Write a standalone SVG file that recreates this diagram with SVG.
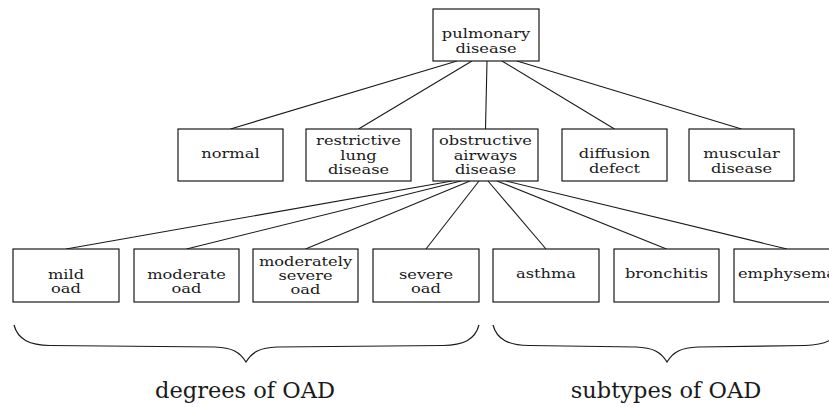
<svg xmlns="http://www.w3.org/2000/svg" width="829" height="407" viewBox="0 0 829 407">
  <style>
    .box { fill: #ffffff; stroke: #1a1a1a; stroke-width: 1.2; }
    .edge { stroke: #1a1a1a; stroke-width: 1.1; fill: none; }
    .brace { stroke: #1a1a1a; stroke-width: 1.2; fill: none; }
    .lbl { font-family: "DejaVu Serif", "Liberation Serif", serif; font-size: 12.5px; fill: #1a1a1a; text-anchor: middle; }
    .cap { font-family: "DejaVu Serif", "Liberation Serif", serif; font-size: 22.5px; fill: #1a1a1a; text-anchor: middle; }
  </style>

  <rect width="829" height="407" fill="#ffffff"/>

  <!-- connectors -->
  <g id="edges">
    <line class="edge" x1="457" y1="61" x2="230.5" y2="129"/>
    <line class="edge" x1="472" y1="61" x2="358.5" y2="129"/>
    <line class="edge" x1="487" y1="61" x2="485.5" y2="129"/>
    <line class="edge" x1="502" y1="61" x2="614.5" y2="129"/>
    <line class="edge" x1="517" y1="61" x2="741.5" y2="129"/>

    <line class="edge" x1="452" y1="181" x2="66" y2="249"/>
    <line class="edge" x1="461" y1="181" x2="186.5" y2="249"/>
    <line class="edge" x1="470" y1="181" x2="305.5" y2="249"/>
    <line class="edge" x1="479" y1="181" x2="426" y2="249"/>
    <line class="edge" x1="488" y1="181" x2="546" y2="249"/>
    <line class="edge" x1="497" y1="181" x2="666.5" y2="249"/>
    <line class="edge" x1="506" y1="181" x2="787" y2="249"/>
  </g>

  <!-- level 0 -->
  <g id="pulmonary-disease">
    <rect class="box" x="433" y="9" width="106" height="52"/>
    <g transform="translate(486 0) scale(1.3 1)">
      <text class="lbl"><tspan x="0" y="38.5">pulmonary</tspan><tspan x="0" y="53">disease</tspan></text>
    </g>
  </g>

  <!-- level 1 -->
  <g id="normal">
    <rect class="box" x="178" y="129" width="105" height="52"/>
    <g transform="translate(230.5 0) scale(1.3 1)">
      <text class="lbl" x="0" y="158.5">normal</text>
    </g>
  </g>
  <g id="restrictive-lung-disease">
    <rect class="box" x="306" y="129" width="105" height="52"/>
    <g transform="translate(358.5 0) scale(1.3 1)">
      <text class="lbl"><tspan x="0" y="145.5">restrictive</tspan><tspan x="0" y="160">lung</tspan><tspan x="0" y="174.3">disease</tspan></text>
    </g>
  </g>
  <g id="obstructive-airways-disease">
    <rect class="box" x="433" y="129" width="105" height="52"/>
    <g transform="translate(485.5 0) scale(1.3 1)">
      <text class="lbl"><tspan x="0" y="145.5">obstructive</tspan><tspan x="0" y="160">airways</tspan><tspan x="0" y="174.3">disease</tspan></text>
    </g>
  </g>
  <g id="diffusion-defect">
    <rect class="box" x="562" y="129" width="105" height="52"/>
    <g transform="translate(614.5 0) scale(1.3 1)">
      <text class="lbl"><tspan x="0" y="158.5">diffusion</tspan><tspan x="0" y="173">defect</tspan></text>
    </g>
  </g>
  <g id="muscular-disease">
    <rect class="box" x="689" y="129" width="105" height="52"/>
    <g transform="translate(741.5 0) scale(1.3 1)">
      <text class="lbl"><tspan x="0" y="158.5">muscular</tspan><tspan x="0" y="173">disease</tspan></text>
    </g>
  </g>

  <!-- level 2 -->
  <g id="mild-oad">
    <rect class="box" x="13" y="249" width="106" height="53"/>
    <g transform="translate(66 0) scale(1.3 1)">
      <text class="lbl"><tspan x="0" y="279">mild</tspan><tspan x="0" y="293.5">oad</tspan></text>
    </g>
  </g>
  <g id="moderate-oad">
    <rect class="box" x="134" y="249" width="105" height="53"/>
    <g transform="translate(186.5 0) scale(1.3 1)">
      <text class="lbl"><tspan x="0" y="279">moderate</tspan><tspan x="0" y="293.5">oad</tspan></text>
    </g>
  </g>
  <g id="moderately-severe-oad">
    <rect class="box" x="253" y="249" width="105" height="53"/>
    <g transform="translate(305.5 0) scale(1.3 1)">
      <text class="lbl"><tspan x="0" y="266">moderately</tspan><tspan x="0" y="280.3">severe</tspan><tspan x="0" y="294.5">oad</tspan></text>
    </g>
  </g>
  <g id="severe-oad">
    <rect class="box" x="373" y="249" width="106" height="53"/>
    <g transform="translate(426 0) scale(1.3 1)">
      <text class="lbl"><tspan x="0" y="279">severe</tspan><tspan x="0" y="293.5">oad</tspan></text>
    </g>
  </g>
  <g id="asthma">
    <rect class="box" x="493" y="249" width="106" height="53"/>
    <g transform="translate(546 0) scale(1.3 1)">
      <text class="lbl" x="0" y="278.5">asthma</text>
    </g>
  </g>
  <g id="bronchitis">
    <rect class="box" x="614" y="249" width="105" height="53"/>
    <g transform="translate(666.5 0) scale(1.3 1)">
      <text class="lbl" x="0" y="278.5">bronchitis</text>
    </g>
  </g>
  <g id="emphysema">
    <rect class="box" x="734" y="249" width="106" height="53"/>
    <g transform="translate(787 0) scale(1.3 1)">
      <text class="lbl" x="0" y="278.5">emphysema</text>
    </g>
  </g>

  <!-- grouping braces with captions -->
  <g id="degrees-of-oad">
    <path class="brace" d="M14,325 C18,340 30,345 50,345.5 L215,347 C232,347.5 240,352 246,362 C252,352 260,347.5 277,347 L443,345.5 C463,345 475,340 479,325"/>
    <text class="cap" x="245" y="398">degrees of OAD</text>
  </g>
  <g id="subtypes-of-oad">
    <path class="brace" d="M493,325 C497,340 509,345 529,345.5 L636,347 C653,347.5 661,352 667,362 C673,352 681,347.5 698,347 L805,345.5 C825,345 837,340 841,325"/>
    <text class="cap" x="666" y="398">subtypes of OAD</text>
  </g>
</svg>
